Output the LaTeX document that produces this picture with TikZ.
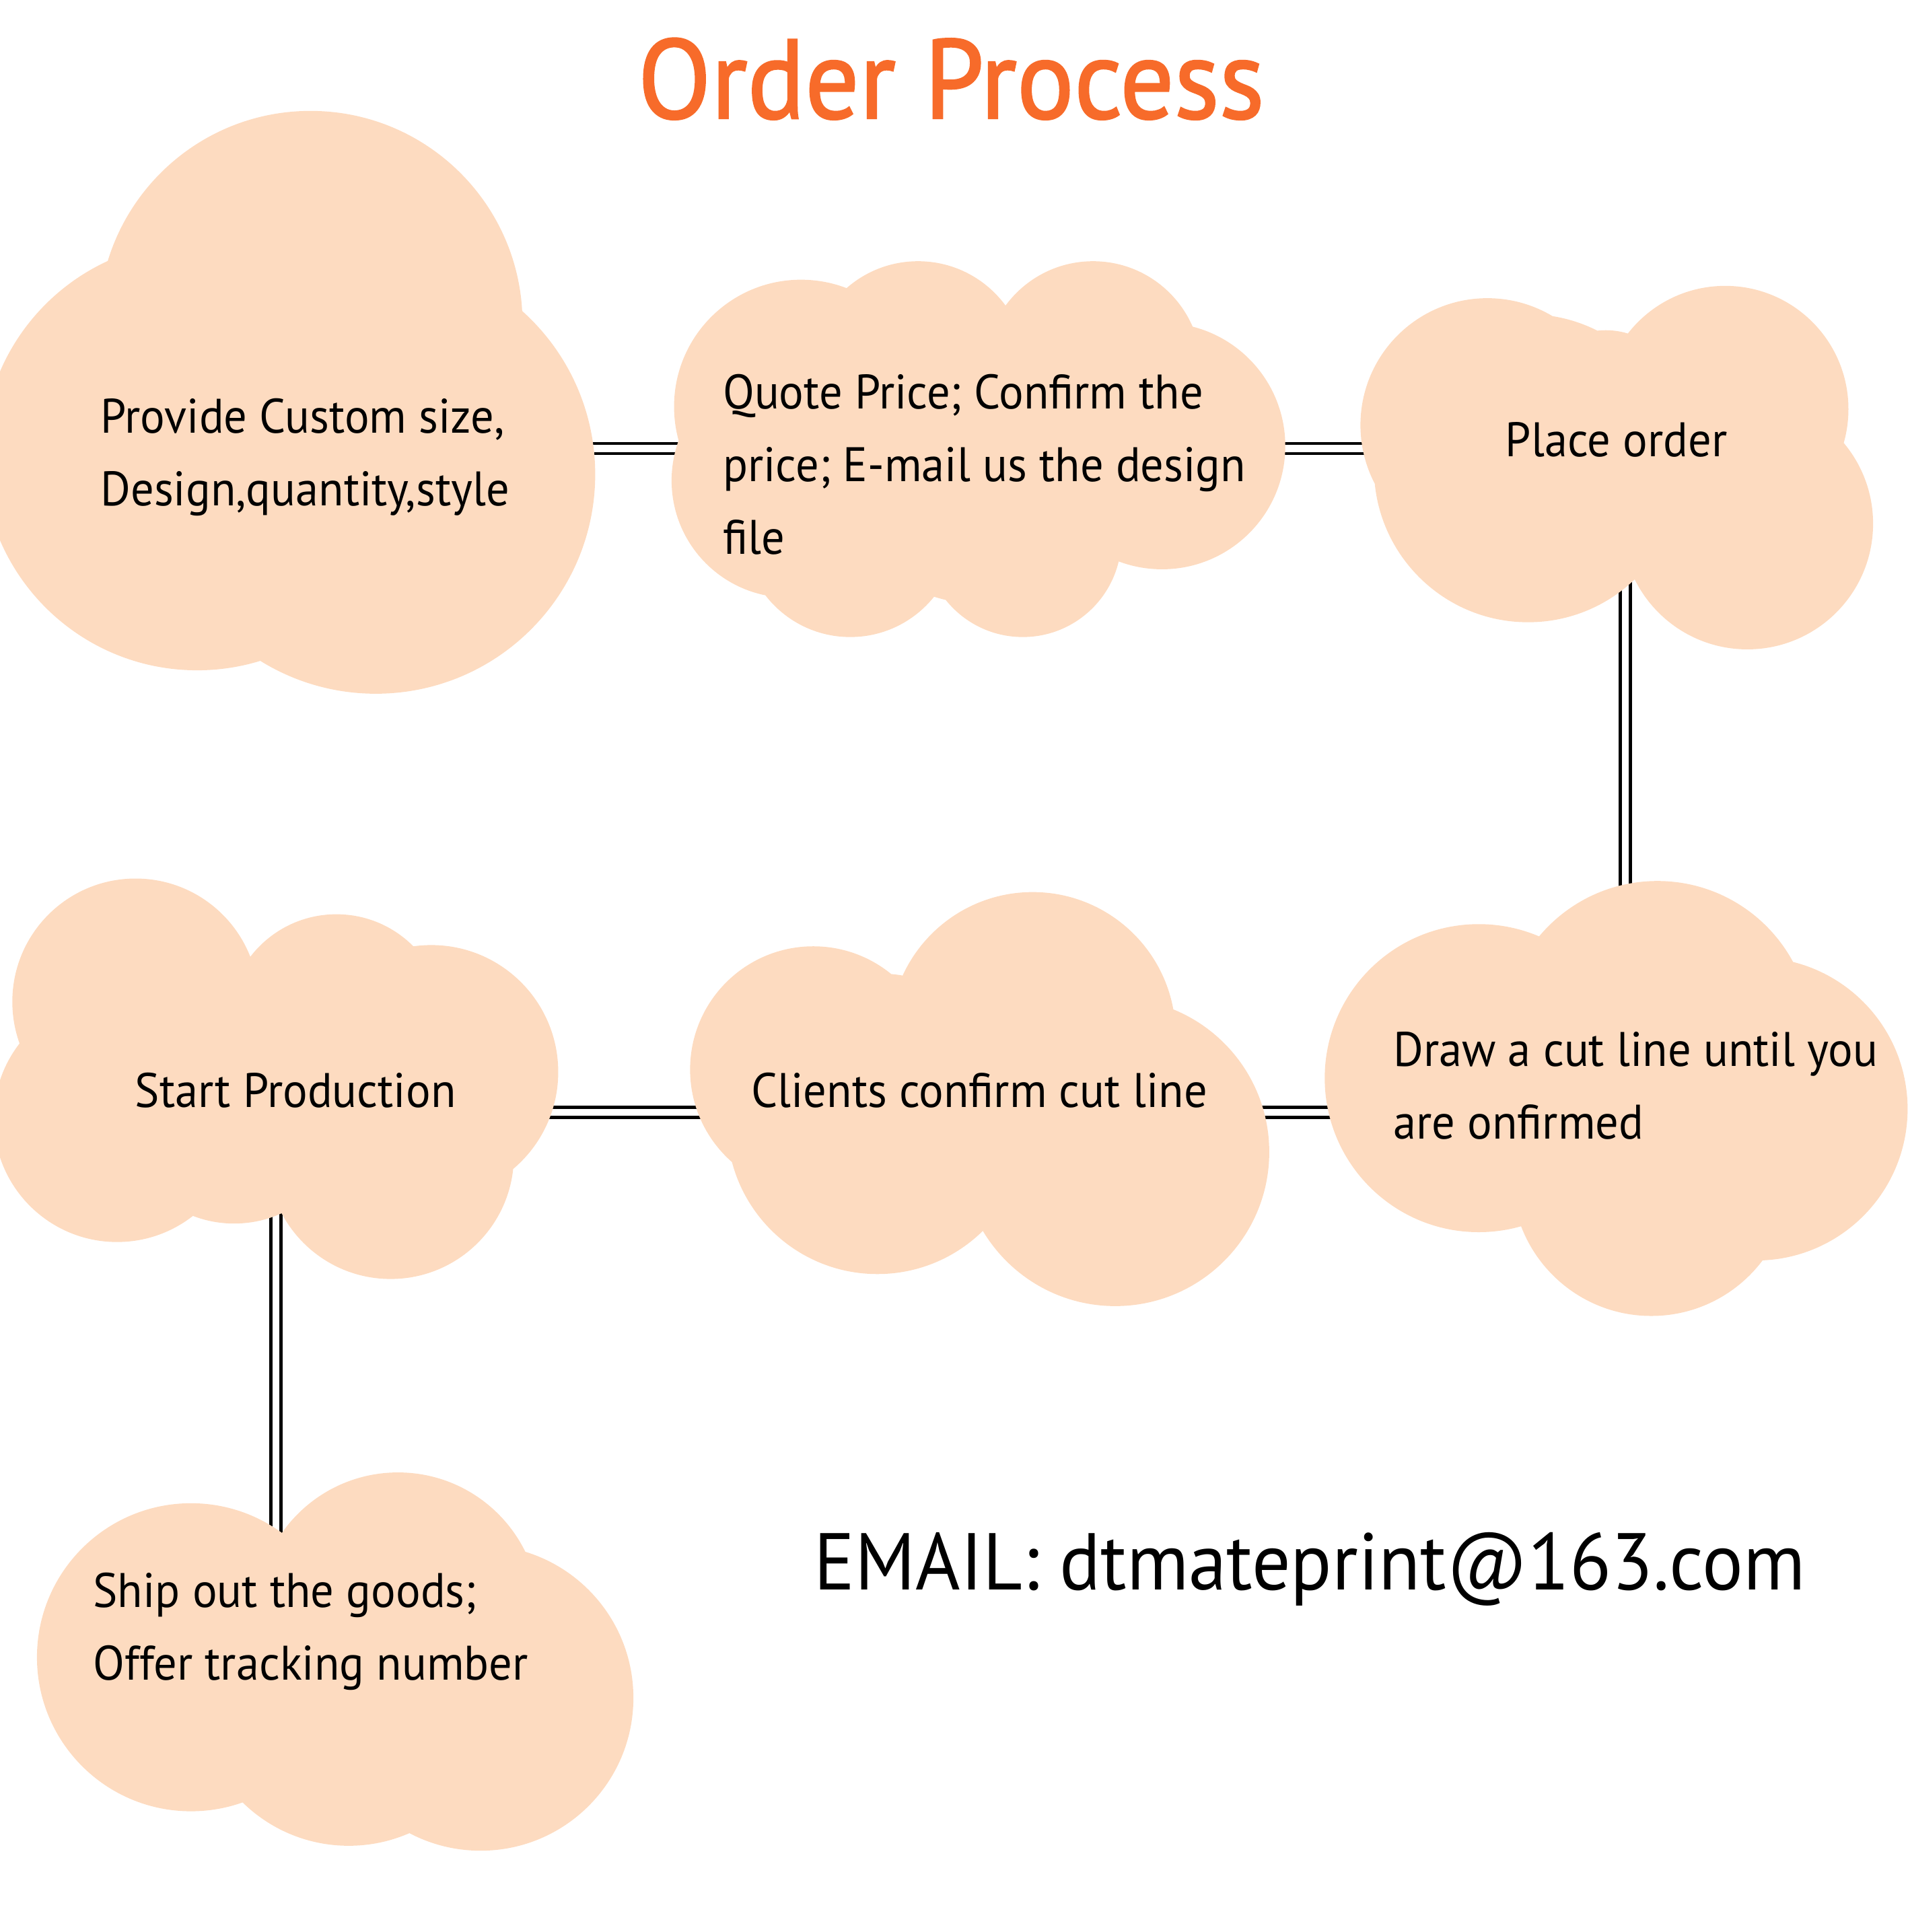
\documentclass[tikz,border=0pt]{standalone}
\usepackage{fontspec}
\setmainfont[FakeStretch=0.95]{PT Sans}
\newfontfamily\titlefont[FakeBold=1.6]{PT Sans}
\definecolor{peach}{HTML}{FDDBC0}
\definecolor{titleorange}{HTML}{F76B2A}
\begin{document}
\begin{tikzpicture}
	[x=0.1mm,y=-0.1mm,
	cloud/.style={fill=peach},
	link/.style={double distance=0.55mm,line width=0.27mm},
	label/.style={align=left,anchor=west,inner sep=0pt,font=\fontsize{11.2}{16.8}\selectfont}]
	\useasboundingbox (0,0) rectangle (1548,1568);
	% hubs of the clouds
	\coordinate (custom-hub) at (250,364);
	\coordinate (quote-hub) at (795,364);
	\coordinate (place-hub) at (1319,364);
	\coordinate (draw-hub) at (1319,903);
	\coordinate (confirm-hub) at (795,903);
	\coordinate (production-hub) at (224,903);
	\coordinate (ship-hub) at (224,1340);
	% connectors, the clouds cover their ends
	\draw[link](custom-hub)--(quote-hub);
	\draw[link](quote-hub)--(place-hub);
	\draw[link](place-hub)--(draw-hub);
	\draw[link](draw-hub)--(confirm-hub);
	\draw[link](confirm-hub)--(production-hub);
	\draw[link](production-hub)--(ship-hub);
	% clouds
	\fill[cloud](252,262)circle(172)(160,370)circle(174)(305,385)circle(178);
	\fill[cloud](650,330)circle(103)(745,300)circle(88)(887,300)circle(88)(943,362)circle(100)
		(830,437)circle(80)(690,430)circle(87)(640,390)circle(95)(795,368)circle(122);
	\fill[cloud](1207,345)circle(103)(1400,332)circle(100)(1303,330)circle(62)
		(1240,380)circle(125)(1418,425)circle(102)(1310,372)circle(92);
	\fill[cloud](1345,840)circle(125)(1200,875)circle(125)(1425,900)circle(123)(1340,955)circle(113);
	\fill[cloud](660,868)circle(100)(838,840)circle(116)(905,935)circle(125)(712,912)circle(122);
	\fill[cloud](110,813)circle(100)(273,830)circle(88)(350,870)circle(103)(317,938)circle(100)
		(95,908)circle(100)(190,900)circle(93)(230,880)circle(100);
	\fill[cloud](155,1345)circle(125)(323,1310)circle(115)(390,1378)circle(124)(283,1375)circle(123);
	% texts
	\node[anchor=base west,inner sep=0pt,text=titleorange,font=\titlefont\fontsize{26}{30}\selectfont,xscale=0.95](title)at(517,96){Order Process};
	\node[label](custom)at(81,371){Provide Custom size,\\Design,quantity,style};
	\node[label](quote)at(586,377){Quote Price; Confirm the\\price; E-mail us the design\\file};
	\node[label](place)at(1221,357){Place order};
	\node[label](draw)at(1130,881){Draw a cut line until you\\are onfirmed};
	\node[label](confirm)at(609,885){Clients confirm cut line};
	\node[label](production)at(109,885){Start Production};
	\node[label](ship)at(75,1324){Ship out the goods;\\Offer tracking number};
	\node[anchor=base west,inner sep=0pt,font=\fontsize{18.6}{22}\selectfont](email)at(660,1290){EMAIL: dtmateprint@163.com};
\end{tikzpicture}
\end{document}
